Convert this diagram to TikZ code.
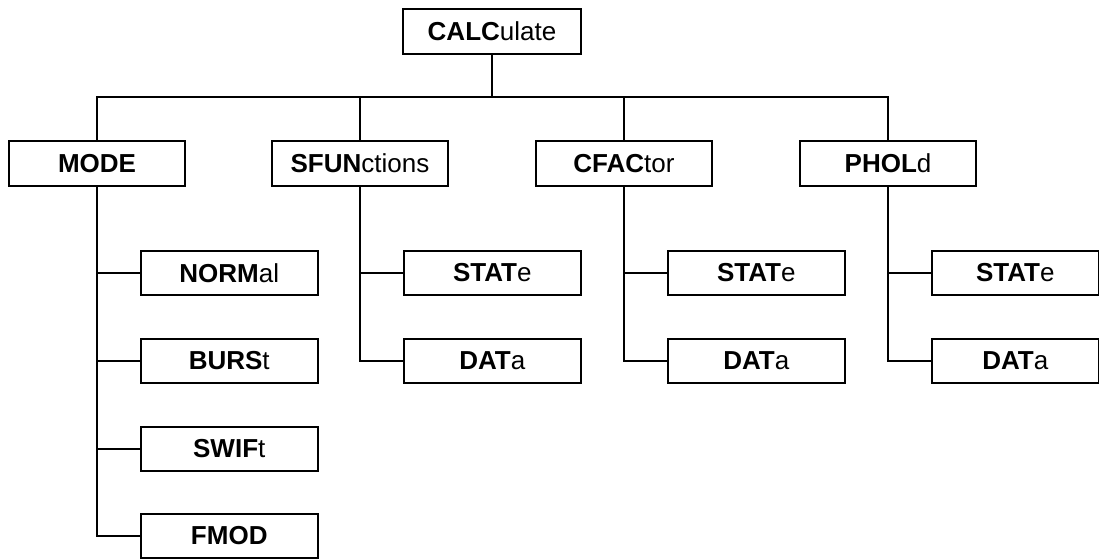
\documentclass[tikz,border=0pt]{standalone}
\usepackage{fontspec}
\setmainfont{Liberation Sans}
\usetikzlibrary{calc}

\begin{document}
\begin{tikzpicture}[
		x=0.5pt, y=-0.5pt,
		box/.style={draw, line width=0.75pt, minimum width=88pt, minimum height=22.5pt, inner sep=0pt, font=\fontsize{13}{15}\selectfont},
		subbox/.style={box, minimum width=88.5pt, minimum height=22pt, anchor=west},
		link/.style={line width=0.6pt}
	]
	\useasboundingbox (0,0) rectangle (1099,559);

	% top level
	\node[box, minimum width=89pt] (calc) at (492,31.5) {\textbf{CALC}ulate};
	\coordinate (bus) at (0,97);

	\node[box] (mode) at (97,163.5) {\textbf{MODE}};
	\node[box] (sfun) at (360,163.5) {\textbf{SFUN}ctions};
	\node[box] (cfac) at (624,163.5) {\textbf{CFAC}tor};
	\node[box] (phold) at (888,163.5) {\textbf{PHOL}d};

	\draw[link] (calc.south) -- (calc.south |- bus);
	\draw[link] (mode.north) |- (phold.north |- bus) -- (phold.north);
	\foreach \p in {sfun,cfac}
		\draw[link] (\p.north) -- (\p.north |- bus);

	% MODE branch
	\node[subbox] (normal) at ($(mode)+(43,109.5)$) {\textbf{NORM}al};
	\node[subbox] (burst) at ($(mode)+(43,197.5)$) {\textbf{BURS}t};
	\node[subbox] (swift) at ($(mode)+(43,285.5)$) {\textbf{SWIF}t};
	\node[subbox] (fmod) at ($(mode)+(43,372.5)$) {\textbf{FMOD}};

	\draw[link] (mode.south) |- (fmod.west);
	\foreach \c in {normal,burst,swift}
		\draw[link] (\c.west) -- (\c.west -| mode.south);

	% STATe / DATa branches
	\foreach \p/\w in {sfun/88.5pt, cfac/88.5pt, phold/83.5pt}{
		\node[subbox, minimum width=\w] (\p-state) at ($(\p)+(43,109.5)$) {\textbf{STAT}e};
		\node[subbox, minimum width=\w] (\p-data) at ($(\p)+(43,197.5)$) {\textbf{DAT}a};
		\draw[link] (\p.south) |- (\p-data.west);
		\draw[link] (\p-state.west) -- (\p-state.west -| \p.south);
	}
\end{tikzpicture}
\end{document}
